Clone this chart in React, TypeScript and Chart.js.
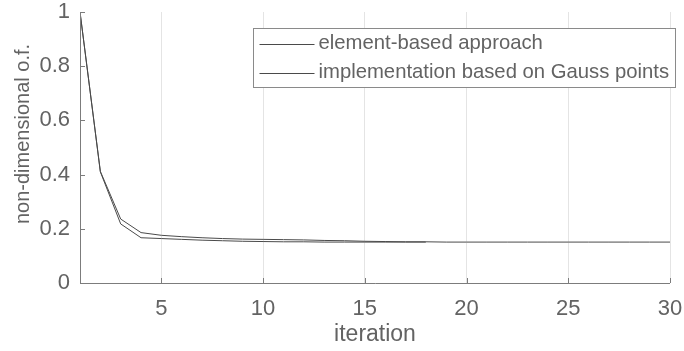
import React, { useEffect, useRef } from "react";
import { Chart, registerables } from "chart.js";

Chart.register(...registerables);

// Iteration history of the non-dimensional objective function
const iterationsLong = [1, 2, 3, 4, 5, 6, 7, 8, 9, 10, 11, 12, 13, 14, 15, 16, 17, 18, 19, 20, 21, 22, 23, 24, 25, 26, 27, 28, 29, 30];
const iterationsShort = [1, 2, 3, 4, 5, 6, 7, 8, 9, 10, 11, 12, 13, 14, 15, 16, 17, 18];

const elementBased = [
  1.0, 0.412, 0.236, 0.186, 0.176, 0.171, 0.167, 0.164, 0.162, 0.161,
  0.160, 0.159, 0.157, 0.156, 0.154, 0.153, 0.152, 0.152, 0.151, 0.151,
  0.151, 0.151, 0.151, 0.151, 0.151, 0.151, 0.151, 0.151, 0.151, 0.151,
];
const gaussPoints = [
  1.0, 0.41, 0.218, 0.167, 0.164, 0.161, 0.158, 0.156, 0.154, 0.153,
  0.152, 0.152, 0.151, 0.151, 0.151, 0.151, 0.151, 0.151,
];

const seriesLabels = ["element-based approach", "implementation based on Gauss points"];
const xTicks = [5, 10, 15, 20, 25, 30];
const yTicks = [0, 0.2, 0.4, 0.6, 0.8, 1];
const xTitle = "iteration";
const yTitle = "non-dimensional o.f.";

const FONT = "'Liberation Sans', Arial, Helvetica, sans-serif";
const TEXT = "#636363";
const AXIS = "#7c7c7c";
const LINE = "#4a4a4a";

const decorations = {
  id: "decorations",
  afterDatasetsDraw(chart: any) {
    const { ctx, chartArea: a, scales } = chart;
    const xs = scales.x;
    const ys = scales.y;
    ctx.save();
    // axis lines (left and bottom only)
    ctx.strokeStyle = AXIS;
    ctx.lineWidth = 1;
    ctx.beginPath();
    ctx.moveTo(Math.round(a.left) + 0.5, a.top);
    ctx.lineTo(Math.round(a.left) + 0.5, Math.round(a.bottom) + 0.5);
    ctx.lineTo(a.right, Math.round(a.bottom) + 0.5);
    ctx.stroke();
    // inward tick marks
    ctx.beginPath();
    for (const v of xTicks) {
      const px = Math.round(xs.getPixelForValue(v)) + 0.5;
      ctx.moveTo(px, Math.round(a.bottom));
      ctx.lineTo(px, Math.round(a.bottom) - 5);
    }
    for (const v of yTicks) {
      const py = Math.round(ys.getPixelForValue(v)) + 0.5;
      ctx.moveTo(Math.round(a.left), py);
      ctx.lineTo(Math.round(a.left) + 5, py);
    }
    ctx.stroke();

    // axis titles
    ctx.fillStyle = TEXT;
    ctx.font = `23px ${FONT}`;
    ctx.textAlign = "center";
    ctx.textBaseline = "middle";
    ctx.fillText(xTitle, (a.left + a.right) / 2, a.bottom + 52);
    ctx.save();
    ctx.translate(a.left - 57, a.top + 122);
    ctx.rotate(-Math.PI / 2);
    ctx.font = `20px ${FONT}`;
    ctx.fillText(yTitle, 0, 0);
    ctx.restore();

    // legend box
    const bx = 253.5, by = 28.5, bw = 422, bh = 59;
    ctx.fillStyle = "#ffffff";
    ctx.fillRect(bx, by, bw, bh);
    ctx.strokeStyle = "#8a8a8a";
    ctx.strokeRect(bx, by, bw, bh);
    ctx.font = `20.3px ${FONT}`;
    ctx.textAlign = "left";
    ctx.textBaseline = "middle";
    const rows = [by + 15, by + 44];
    chart.data.datasets.forEach((ds: any, i: number) => {
      ctx.strokeStyle = ds.borderColor;
      ctx.lineWidth = ds.borderWidth;
      ctx.beginPath();
      ctx.moveTo(bx + 6, Math.round(rows[i]) + 0.5);
      ctx.lineTo(bx + 61, Math.round(rows[i]) + 0.5);
      ctx.stroke();
      ctx.fillStyle = TEXT;
      ctx.fillText(ds.label, bx + 65, rows[i]);
    });
    ctx.restore();
  },
};

export default function App() {
  const ref = useRef<HTMLCanvasElement | null>(null);

  useEffect(() => {
    if (!ref.current) return;
    const chart = new Chart(ref.current, {
      type: "line",
      data: {
        datasets: [
          {
            label: seriesLabels[0],
            data: iterationsLong.map((x, i) => ({ x, y: elementBased[i] })),
            borderColor: LINE,
            borderWidth: 1,
            pointRadius: 0,
            tension: 0,
            fill: false,
          },
          {
            label: seriesLabels[1],
            data: iterationsShort.map((x, i) => ({ x, y: gaussPoints[i] })),
            borderColor: LINE,
            borderWidth: 1,
            pointRadius: 0,
            tension: 0,
            fill: false,
          },
        ],
      },
      options: {
        animation: false,
        responsive: false,
        maintainAspectRatio: false,
        layout: { padding: { top: 12, right: 14, left: 0, bottom: 0 } },
        plugins: {
          legend: { display: false },
          tooltip: { enabled: false },
        },
        scales: {
          x: {
            type: "linear",
            min: 1,
            max: 30,
            afterBuildTicks: (s: any) => {
              s.ticks = xTicks.map((v) => ({ value: v }));
            },
            afterFit: (s: any) => {
              s.height = 68;
              s.paddingLeft = 0;
              s.paddingRight = 0;
            },
            grid: { display: true, color: "#e4e4e4", drawTicks: false },
            border: { display: false },
            ticks: {
              color: TEXT,
              font: { family: FONT, size: 22 },
              padding: 13,
              maxRotation: 0,
              callback: (v: any) => String(v),
            },
          },
          y: {
            type: "linear",
            min: 0,
            max: 1,
            afterBuildTicks: (s: any) => {
              s.ticks = yTicks.map((v) => ({ value: v }));
            },
            afterFit: (s: any) => {
              s.width = 80;
              s.paddingTop = 0;
              s.paddingBottom = 0;
            },
            grid: { display: false, drawTicks: false },
            border: { display: false },
            ticks: {
              color: TEXT,
              font: { family: FONT, size: 22 },
              padding: 10,
              callback: (v: any) => String(v),
            },
          },
        },
      },
      plugins: [decorations],
    });
    return () => chart.destroy();
  }, []);

  return (
    <div style={{ position: "fixed", left: 0, top: 0, width: 684, height: 351, background: "#fff" }}>
      <canvas ref={ref} width={684} height={351} style={{ display: "block" }} />
    </div>
  );
}
